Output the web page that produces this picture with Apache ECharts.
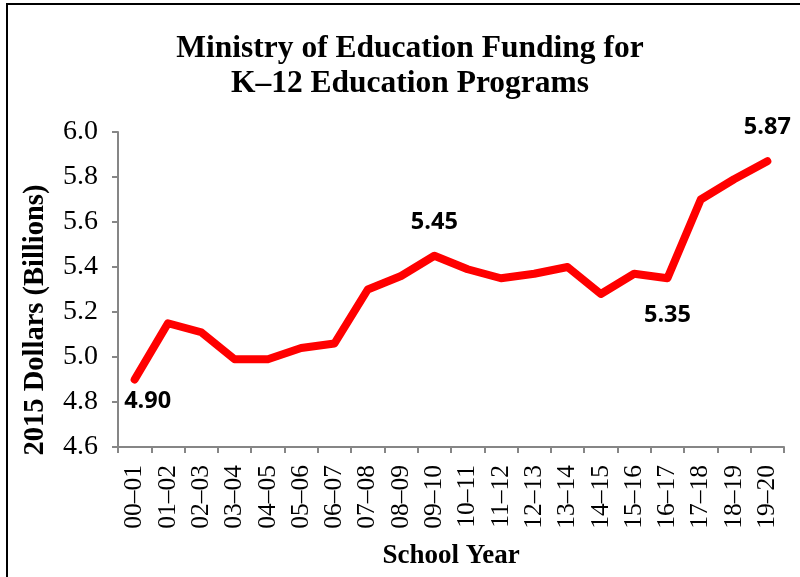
<!DOCTYPE html>
<html>
<head>
<meta charset="utf-8">
<script src="https://cdn.jsdelivr.net/npm/echarts@6/dist/echarts.min.js"></script>
<style>
html,body{margin:0;padding:0;background:#fff;}
#chart{width:800px;height:577px;}
</style>
</head>
<body>
<div id="chart"></div>
<script>
var categories = ['00–01','01–02','02–03','03–04','04–05','05–06','06–07','07–08','08–09','09–10',
                  '10–11','11–12','12–13','13–14','14–15','15–16','16–17','17–18','18–19','19–20'];
var funding = [4.90, 5.15, 5.11, 4.99, 4.99, 5.04, 5.06, 5.30, 5.36, 5.45,
               5.39, 5.35, 5.37, 5.40, 5.28, 5.37, 5.35, 5.70, 5.79, 5.87];
var labelled = {0: 'below', 9: 'above', 16: 'below', 19: 'above'};
var yTicks = [4.6, 4.8, 5.0, 5.2, 5.4, 5.6, 5.8, 6.0];

var serif = '"Liberation Serif","Times New Roman",serif';
var chart = echarts.init(document.getElementById('chart'), null, {renderer: 'canvas'});

var seriesData = funding.map(function (v, i) {
  var item = {value: v};
  if (labelled[i] === 'below') {
    item.label = {show: true, position: 'bottom', distance: i === 0 ? 9 : 25, offset: i === 0 ? [13, 0] : [0, 0]};
  } else if (labelled[i] === 'above') {
    item.label = {show: true, position: 'top', distance: 21};
  }
  return item;
});

chart.setOption({
  animation: false,
  backgroundColor: '#fff',
  title: {
    text: 'Ministry of Education Funding for\nK–12 Education Programs',
    left: 405, top: 26, textAlign: 'center',
    textStyle: {fontFamily: serif, fontWeight: 'bold', fontSize: 31.5, lineHeight: 35, color: '#000'}
  },
  grid: {left: 118, right: 16, top: 132, bottom: 130},
  xAxis: {
    type: 'category', data: categories, boundaryGap: true,
    name: 'School Year', nameLocation: 'middle', nameGap: 96,
    nameTextStyle: {fontFamily: serif, fontWeight: 'bold', fontSize: 27, color: '#000'},
    axisLine: {lineStyle: {color: '#868686', width: 2}},
    axisTick: {show: true, alignWithLabel: false, length: 6, lineStyle: {color: '#868686', width: 2}},
    axisLabel: {rotate: 90, interval: 0, margin: 18, fontFamily: serif, fontSize: 25.5, color: '#000'}
  },
  yAxis: {
    type: 'value', min: yTicks[0], max: yTicks[yTicks.length - 1], interval: 0.2,
    axisLine: {show: true, lineStyle: {color: '#868686', width: 2}},
    axisTick: {show: true, length: 6, lineStyle: {color: '#868686', width: 2}},
    splitLine: {show: false},
    axisLabel: {margin: 20, fontFamily: serif, fontSize: 28, color: '#000',
      formatter: function (v) { return v.toFixed(1); }}
  },
  graphic: [
    {type: 'text', rotation: Math.PI / 2, x: 36, y: 320,
     style: {text: '2015 Dollars (Billions)', fontFamily: serif, fontWeight: 'bold', fontSize: 28.5,
             fill: '#000', textAlign: 'center', textVerticalAlign: 'middle'}},
    {type: 'polyline', shape: {points: [[7, 577], [7, 4], [800, 4]]},
     style: {stroke: '#000', lineWidth: 2, fill: null}}
  ],
  series: [{
    type: 'line', data: seriesData, showSymbol: true, symbol: 'circle', symbolSize: 1,
    lineStyle: {color: '#ff0000', width: 8, join: 'round', cap: 'round'},
    itemStyle: {color: '#ff0000'},
    label: {show: false, fontFamily: '"Open Sans","Noto Sans",sans-serif', fontWeight: 'bold', fontSize: 23.5, color: '#000',
      formatter: function (p) { return p.value.toFixed(2); }}
  }]
});
</script>
</body>
</html>
